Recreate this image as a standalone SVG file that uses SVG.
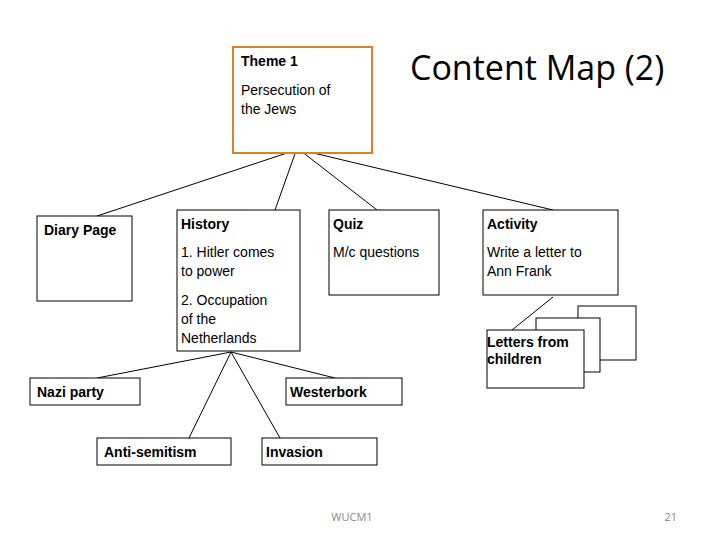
<svg xmlns="http://www.w3.org/2000/svg" width="720" height="540" viewBox="0 0 720 540">
<style>
.b{fill:#fff;stroke:#000;stroke-width:1}
.t{font-family:"Liberation Sans",Arial,sans-serif;font-size:14px;fill:#000}
.h{font-weight:bold}
.c line{stroke:#000;stroke-width:1}
.f{font-family:"Open Sans","Liberation Sans",sans-serif;font-size:11px;fill:#888}
</style>
<rect width="720" height="540" fill="#fff"/>
<text x="410" y="80" font-family="Open Sans, Liberation Sans, sans-serif" font-size="34" fill="#000">Content Map (2)</text>
<g class="c">
<line x1="293" y1="151" x2="97" y2="216"/>
<line x1="296" y1="151" x2="275" y2="210"/>
<line x1="301" y1="151" x2="377" y2="210"/>
<line x1="305" y1="151" x2="553" y2="210"/>
<line x1="231" y1="352" x2="97" y2="378"/>
<line x1="231" y1="352" x2="335" y2="378"/>
<line x1="231" y1="352" x2="189" y2="438"/>
<line x1="231" y1="352" x2="280" y2="438"/>
<line x1="553" y1="297" x2="512" y2="330"/>
</g>
<g id="theme"><rect x="233" y="47" width="139" height="106" fill="#fff" stroke="#d9822b" stroke-width="2"/>
<text class="t h" x="241" y="66">Theme 1</text><text class="t" x="241" y="95">Persecution of</text><text class="t" x="241" y="114">the Jews</text></g>
<g id="diary"><rect class="b" x="37" y="216" width="95" height="85"/><text class="t h" x="44" y="235">Diary Page</text></g>
<g id="history"><rect class="b" x="177" y="210" width="123" height="141"/>
<text class="t h" x="181" y="229">History</text>
<text class="t" x="181" y="257">1. Hitler comes</text><text class="t" x="181" y="276">to power</text>
<text class="t" x="181" y="305">2. Occupation</text><text class="t" x="181" y="324">of the</text><text class="t" x="181" y="343">Netherlands</text></g>
<g id="quiz"><rect class="b" x="329" y="210" width="110" height="85"/><text class="t h" x="333" y="229">Quiz</text><text class="t" x="333" y="257">M/c questions</text></g>
<g id="activity"><rect class="b" x="483" y="210" width="135" height="85"/><text class="t h" x="487" y="229">Activity</text><text class="t" x="487" y="257">Write a letter to</text><text class="t" x="487" y="276">Ann Frank</text></g>
<g id="letters"><rect class="b" x="578" y="306" width="58" height="54"/><rect class="b" x="536" y="318" width="64" height="54"/><rect class="b" x="487" y="330" width="97" height="58"/>
<text class="t h" x="487" y="347" font-size="13">Letters from</text><text class="t h" x="487" y="364" font-size="13">children</text></g>
<g id="nazi"><rect class="b" x="30" y="378" width="110" height="27"/><text class="t h" x="37" y="397">Nazi party</text></g>
<g id="westerbork"><rect class="b" x="286" y="378" width="116" height="27"/><text class="t h" x="290" y="397">Westerbork</text></g>
<g id="anti"><rect class="b" x="97" y="438" width="134" height="27"/><text class="t h" x="104" y="457">Anti-semitism</text></g>
<g id="invasion"><rect class="b" x="262" y="438" width="115" height="27"/><text class="t h" x="266" y="457">Invasion</text></g>
<text class="f" x="352" y="521" text-anchor="middle">WUCM1</text>
<text class="f" x="677" y="521" text-anchor="end">21</text>
</svg>
